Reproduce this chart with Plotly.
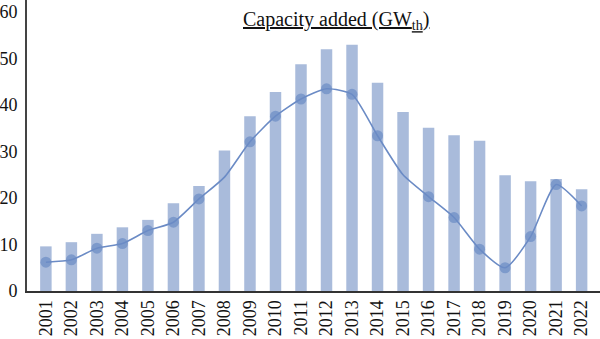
import plotly.graph_objects as go

years = list(range(2001, 2023))
bar_values = [9.6, 10.5, 12.3, 13.7, 15.3, 18.9, 22.6, 30.2, 37.6, 42.8, 48.8, 52.0,
              53.0, 44.8, 38.5, 35.1, 33.5, 32.3, 24.9, 23.6, 24.1, 21.9]
line_values = [6.2, 6.7, 9.2, 10.2, 13.0, 14.8, 19.8, 24.5, 32.1, 37.6, 41.3, 43.5,
               42.3, 33.4, 25.0, 20.3, 15.8, 9.0, 5.0, 11.7, 22.9, 18.3]
no_marker_years = [2008, 2015]
y_ticks = [0, 10, 20, 30, 40, 50, 60]
title_text = "<u>Capacity added (GW<sub>th</sub>)</u>"

font_family = "Liberation Serif"
bar_color = "#a9bbdb"
line_color = "#6b8bc5"

marker_sizes = [0 if y in no_marker_years else 11 for y in years]

fig = go.Figure()
fig.add_trace(go.Bar(x=years, y=bar_values, marker_color=bar_color, width=0.45,
                     marker_line_width=0))
fig.add_trace(go.Scatter(x=years, y=line_values, mode="lines+markers",
                         line=dict(color=line_color, width=1.6, shape="spline", smoothing=0.6),
                         marker=dict(color=line_color, size=marker_sizes,
                                     line=dict(width=0))))

fig.add_annotation(text=title_text, xref="paper", yref="paper", x=0.54, y=0.93,
                   xanchor="center", yanchor="middle", showarrow=False,
                   font=dict(family=font_family, size=20, color="#111111"))

fig.update_layout(
    width=600, height=339,
    margin=dict(l=27, r=0, t=0, b=48),
    paper_bgcolor="white", plot_bgcolor="white",
    showlegend=False,
    font=dict(family=font_family, color="#111111"),
)
fig.update_xaxes(range=[2000.26, 2022.72], tickmode="array", tickvals=years,
                 ticktext=[str(y) for y in years], tickangle=-90,
                 tickfont=dict(size=18, family=font_family),
                 showline=True, linecolor="#333333", linewidth=2,
                 showgrid=False, zeroline=False, ticks="")
fig.update_yaxes(range=[0, 62.6], tickvals=y_ticks, tickfont=dict(size=18, family=font_family),
                 showline=True, linecolor="#444444", linewidth=2,
                 showgrid=False, zeroline=False, ticks="", ticklabelstandoff=4)

fig.write_html("out.html")
